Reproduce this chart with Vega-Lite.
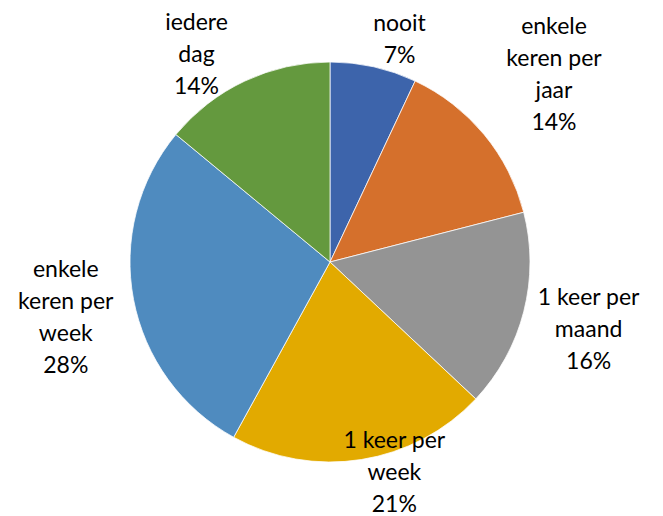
{
  "$schema": "https://vega.github.io/schema/vega-lite/v6.json",
  "autosize": "none",
  "width": 660,
  "height": 508,
  "padding": {"left": 0, "top": 8, "right": 3, "bottom": 0},
  "background": "white",
  "config": {"view": {"stroke": null}, "text": {"font": "Lato", "fontSize": 23, "color": "#000000", "lineBreak": "\n", "lineHeight": 32, "align": "center", "baseline": "middle"}},
  "data": {"values": [
    {"rank": 1, "category": "nooit", "value": 7, "label": "nooit\n7%"},
    {"rank": 2, "category": "enkele keren per jaar", "value": 14, "label": "enkele\nkeren per\njaar\n14%"},
    {"rank": 3, "category": "1 keer per maand", "value": 16, "label": "1 keer per\nmaand\n16%"},
    {"rank": 4, "category": "1 keer per week", "value": 21, "label": "1 keer per\nweek\n21%"},
    {"rank": 5, "category": "enkele keren per week", "value": 28, "label": "enkele\nkeren per\nweek\n28%"},
    {"rank": 6, "category": "iedere dag", "value": 14, "label": "iedere\ndag\n14%"}
  ]},
  "encoding": {
    "theta": {"field": "value", "type": "quantitative", "stack": true},
    "order": {"field": "rank", "type": "quantitative"}
  },
  "layer": [
    {
      "mark": {"type": "arc", "outerRadius": 200, "stroke": "#ffffff", "strokeWidth": 0.75},
      "encoding": {
        "color": {"field": "category", "type": "nominal", "legend": null,
          "scale": {"domain": ["nooit", "enkele keren per jaar", "1 keer per maand", "1 keer per week", "enkele keren per week", "iedere dag"],
                    "range": ["#3D64AB", "#D5702C", "#949494", "#E2AA00", "#4F8BBF", "#64993E"]}}
      }
    },
    {
      "mark": {"type": "text", "radius": 227, "dx": 20, "dy": -16},
      "encoding": {"text": {"condition": {"test": "datum.category === 'nooit'", "field": "label"}, "value": ""}}
    },
    {
      "mark": {"type": "text", "radius": 292, "dx": -1, "dy": -49},
      "encoding": {"text": {"condition": {"test": "datum.category === 'enkele keren per jaar'", "field": "label"}, "value": ""}}
    },
    {
      "mark": {"type": "text", "radius": 267, "dy": -30},
      "encoding": {"text": {"condition": {"test": "datum.category === '1 keer per maand'", "field": "label"}, "value": ""}}
    },
    {
      "mark": {"type": "text", "radius": 213, "dx": 31, "dy": -31},
      "encoding": {"text": {"condition": {"test": "datum.category === '1 keer per week'", "field": "label"}, "value": ""}}
    },
    {
      "mark": {"type": "text", "radius": 269, "dy": -42},
      "encoding": {"text": {"condition": {"test": "datum.category === 'enkele keren per week'", "field": "label"}, "value": ""}}
    },
    {
      "mark": {"type": "text", "radius": 229, "dx": -36, "dy": -32},
      "encoding": {"text": {"condition": {"test": "datum.category === 'iedere dag'", "field": "label"}, "value": ""}}
    }
  ]
}
